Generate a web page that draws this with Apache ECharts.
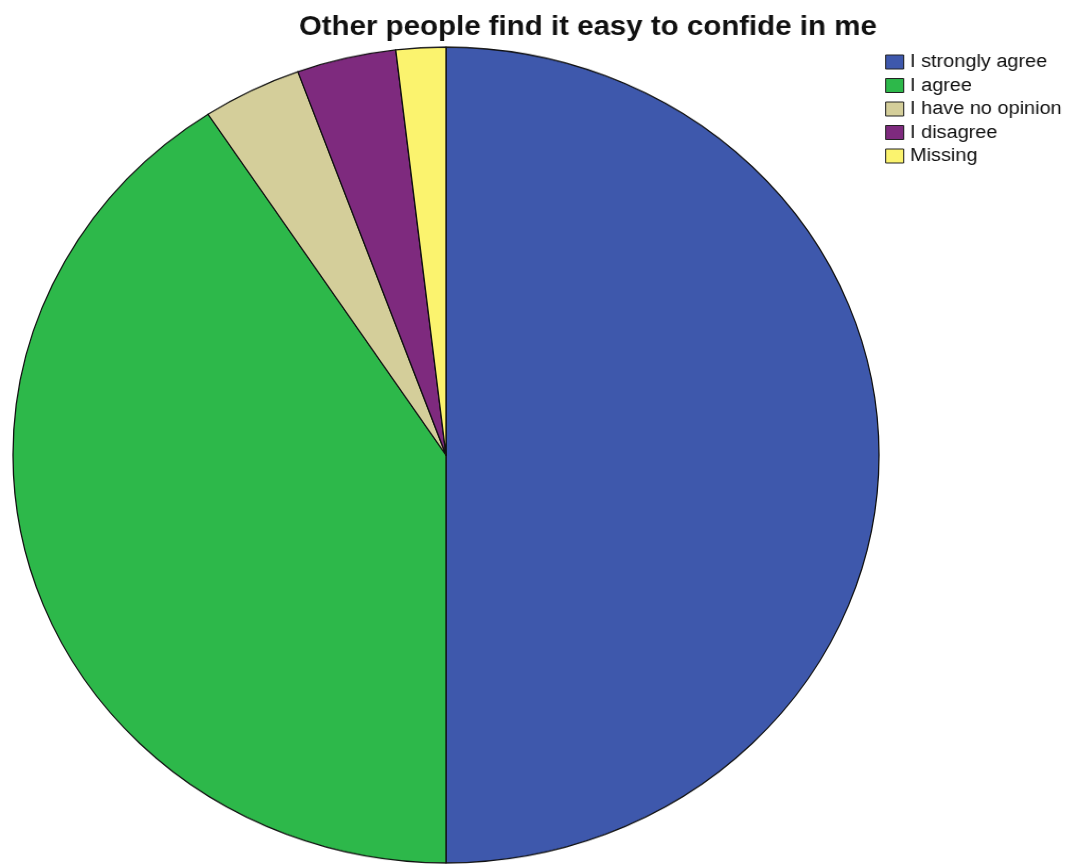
<!DOCTYPE html>
<html><head><meta charset="utf-8">
<script src="https://cdn.jsdelivr.net/npm/echarts@6/dist/echarts.min.js"></script>
<style>
html,body{margin:0;padding:0;background:#fff;}
#wrap{position:relative;width:1070px;height:865px;overflow:hidden;}
#pie{position:absolute;left:0;top:0;width:1070px;height:920px;transform-origin:446px 455px;transform:scaleY(0.942);}
#over{position:absolute;left:0;top:0;width:1010px;height:865px;transform-origin:0 0;transform:scaleX(1.06);}
</style></head>
<body><div id="wrap"><div id="pie"></div><div id="over"></div></div>
<script>
const titleText = 'Other people find it easy to confide in me';
const categories = ['I strongly agree','I agree','I have no opinion','I disagree','Missing'];
const counts = [27, 22, 2, 2, 1];
const colors = ['#3E58AC','#2DB84A','#D4CE9A','#7E2A7E','#FBF36E'];

const data = categories.map((c,i)=>({name:c, value:counts[i], itemStyle:{color:colors[i]}}));

const pie = echarts.init(document.getElementById('pie'), null, {renderer:'canvas'});
pie.setOption({
  animation:false,
  series:[{
    type:'pie', center:[446,455], radius:[0,433], startAngle:90, clockwise:true,
    label:{show:false}, labelLine:{show:false}, emphasis:{disabled:true},
    itemStyle:{borderColor:'#111', borderWidth:1.3},
    data:data
  }]
});

const over = echarts.init(document.getElementById('over'), null, {renderer:'canvas'});
over.setOption({
  animation:false,
  title:{text:titleText, left:549.5, top:8, textAlign:'center',
    textStyle:{fontFamily:'Liberation Sans, Arial, sans-serif', fontWeight:'bold', fontSize:27.8, color:'#111'}},
  legend:{orient:'vertical', left:830, top:47.5, itemWidth:17, itemHeight:14, itemGap:4.5,
    icon:'rect', selectedMode:false,
    textStyle:{fontFamily:'Liberation Sans, Arial, sans-serif', fontSize:18.8, color:'#111', padding:[0,0,0,1]},
    itemStyle:{borderColor:'#222', borderWidth:1},
    data:categories.map((c,i)=>({name:c, itemStyle:{color:colors[i]}}))},
  series:[{type:'pie', radius:0, center:[-100,-100], silent:true, label:{show:false},
    data:categories.map((c,i)=>({name:c, value:counts[i], itemStyle:{color:colors[i]}}))}]
});
</script></body></html>
